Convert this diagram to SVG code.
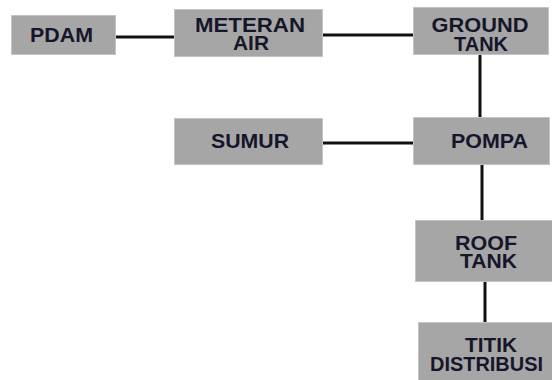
<svg xmlns="http://www.w3.org/2000/svg" width="552" height="380" viewBox="0 0 552 380">
<style>
.box{fill:#a6a6a6;stroke:#c4c4c4;stroke-width:1}
.t{font-family:"Liberation Sans",Arial,sans-serif;font-weight:bold;font-size:20px;fill:#16162a;text-anchor:middle}
.c{stroke:#111;stroke-width:3;fill:none}
</style>
<rect width="552" height="380" fill="#fff"/>
<g id="connectors">
<line class="c" x1="116" y1="37" x2="174" y2="37"/>
<line class="c" x1="322" y1="35" x2="413" y2="35"/>
<line class="c" x1="480" y1="54" x2="480" y2="118"/>
<line class="c" x1="322" y1="143" x2="413" y2="143"/>
<line class="c" x1="482" y1="164" x2="482" y2="220"/>
<line class="c" x1="485" y1="281" x2="485" y2="323"/>
</g>
<g id="pdam">
<rect class="box" x="11.5" y="15.5" width="104" height="39"/>
<text class="t" x="61.5" y="42" textLength="63" lengthAdjust="spacingAndGlyphs">PDAM</text>
</g>
<g id="meteran">
<rect class="box" x="174.5" y="9.5" width="148" height="47"/>
<text class="t" x="250" y="32" textLength="110" lengthAdjust="spacingAndGlyphs">METERAN</text>
<text class="t" x="251" y="50" textLength="36" lengthAdjust="spacingAndGlyphs">AIR</text>
</g>
<g id="ground">
<rect class="box" x="413.5" y="7.5" width="135" height="47"/>
<text class="t" x="480" y="32" textLength="97" lengthAdjust="spacingAndGlyphs">GROUND</text>
<text class="t" x="481" y="51" textLength="54" lengthAdjust="spacingAndGlyphs">TANK</text>
</g>
<g id="sumur">
<rect class="box" x="174.5" y="118.5" width="148" height="46"/>
<text class="t" x="250" y="148" textLength="78" lengthAdjust="spacingAndGlyphs">SUMUR</text>
</g>
<g id="pompa">
<rect class="box" x="413.5" y="117.5" width="136" height="47"/>
<text class="t" x="489.5" y="148" textLength="77" lengthAdjust="spacingAndGlyphs">POMPA</text>
</g>
<g id="roof">
<rect class="box" x="415.5" y="220.5" width="138" height="61"/>
<text class="t" x="486" y="250" textLength="62" lengthAdjust="spacingAndGlyphs">ROOF</text>
<text class="t" x="488.5" y="268" textLength="57" lengthAdjust="spacingAndGlyphs">TANK</text>
</g>
<g id="titik">
<rect class="box" x="418.5" y="322.5" width="140" height="60"/>
<text class="t" x="491" y="352" textLength="52" lengthAdjust="spacingAndGlyphs">TITIK</text>
<text class="t" x="486.5" y="371" textLength="113" lengthAdjust="spacingAndGlyphs">DISTRIBUSI</text>
</g>
</svg>
